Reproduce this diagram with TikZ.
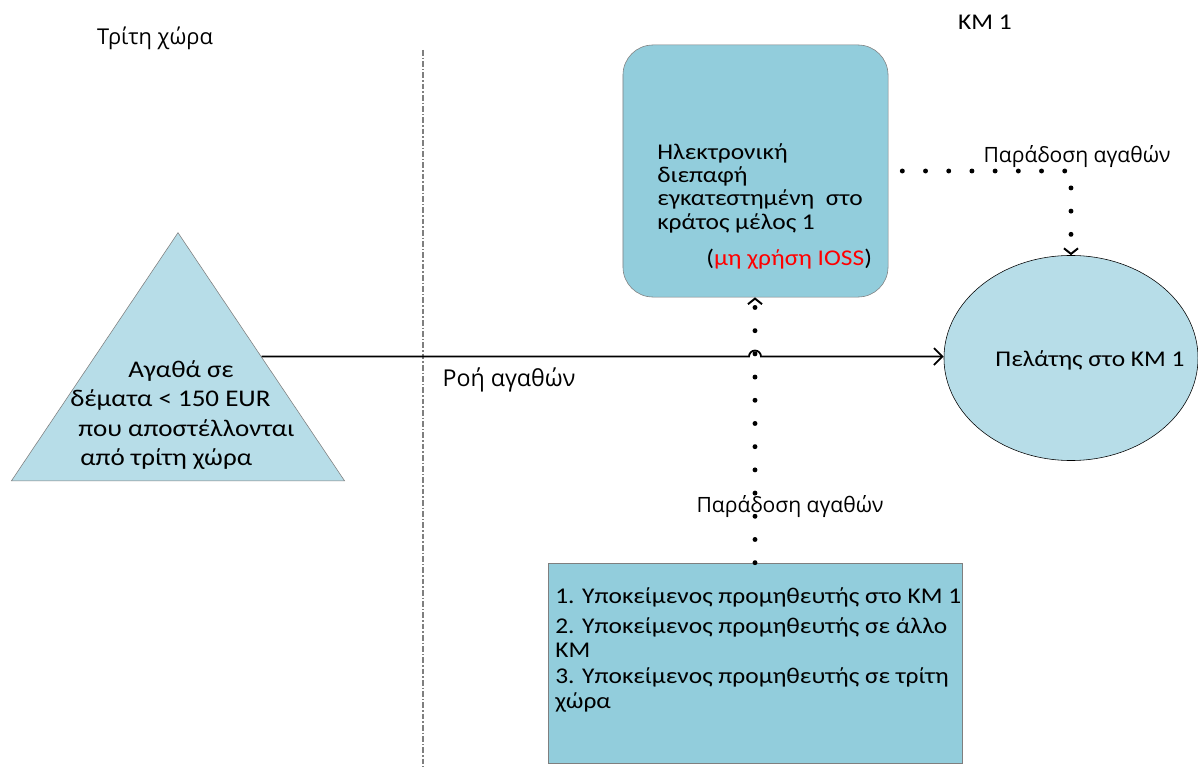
\documentclass[tikz,border=0pt]{standalone}
\usepackage{fontspec}
\setmainfont{Carlito}[FakeStretch=1.13]
\newfontfamily\grsans{Open Sans}
\usepackage{tikz}
\usetikzlibrary{arrows.meta, shapes.geometric, positioning}
\definecolor{boxblue}{HTML}{92CDDC}
\definecolor{paleblue}{HTML}{B7DDE8}
\definecolor{rimgray}{HTML}{7F7F7F}

\begin{document}
\begin{tikzpicture}[x=0.025cm, y=-0.025cm,
    box/.style={draw=rimgray, fill=boxblue, inner sep=0pt},
    txt/.style={font=\fontsize{16}{16.6}\selectfont, align=left, inner sep=0pt},
    lbl/.style={font=\grsans\fontsize{15}{17}\selectfont, inner sep=0pt},
    dots/.style={line width=3.5pt, line cap=round, dash pattern=on 0pt off 16.5pt,
        -{Straight Barb[line width=1.4pt, length=4pt, width=10pt]}},
    flow/.style={line width=1.3pt, -{Straight Barb[length=6pt, width=12pt]}}]
    \useasboundingbox (0,0) rectangle (1198,767);

    % frontier
    \coordinate (divtop) at (423,50);
    \coordinate (divbot) at (423,767);
    \draw[rimgray, line width=0.9pt, dash pattern=on 4pt off 1.5pt on 1pt off 1.5pt] (divtop) -- (divbot);

    \node[lbl, font=\grsans\fontsize{15.5}{17}\selectfont] (third) at (155,38) {Τρίτη χώρα};
    \node[font=\fontsize{16}{18}\selectfont] (ms) at (985,22) {ΚΜ 1};

    % shapes
    \node[isosceles triangle, shape border rotate=90, isosceles triangle stretches,
        draw=rimgray, fill=paleblue, inner sep=0pt, minimum width=8.325cm,
        minimum height=6.2cm, anchor=apex] (goods) at (178,232) {};
    \node[txt, font=\fontsize{17}{21}\selectfont, anchor=west] (goodstxt) at (70,415)
        {\hspace*{1.45cm}Αγαθά σε\\δέματα < 150 EUR\\\hspace*{0.2cm}που αποστέλλονται\\\hspace*{0.25cm}από τρίτη χώρα};

    \node[box, rounded corners=0.75cm, minimum width=6.625cm, minimum height=6.3cm] (iface) at (755.5,171) {};
    \node[txt, anchor=north west] (ifacetxt) at (657,143)
        {Ηλεκτρονική\\διεπαφή\\εγκατεστημένη~~στο\\κράτος μέλος 1\\[9pt]\hspace*{1.225cm}(\textcolor{red}{μη χρήση IOSS})};

    \node[ellipse, draw, fill=paleblue, minimum width=6.35cm, minimum height=5.125cm] (client) at (1071,358) {};
    \node[txt] (clienttxt) at (1090,360) {Πελάτης στο ΚΜ 1};

    \node[box, minimum width=10.35cm, minimum height=5cm] (supplier) at (755,663) {};
    \node[txt, font=\fontsize{16}{17.5}\selectfont, anchor=north west] (suppliertxt) at (555,587)
        {1. Υποκείμενος προμηθευτής στο ΚΜ 1\\[4pt]2. Υποκείμενος προμηθευτής σε άλλο\\ΚΜ\\[1pt]3. Υποκείμενος προμηθευτής σε τρίτη\\χώρα};

    % labels
    \node[lbl, font=\grsans\fontsize{16.5}{18}\selectfont] (flowlbl) at (509,380) {Ροή αγαθών};
    \node[lbl] (deliv1) at (1077,157) {Παράδοση αγαθών};
    \node[lbl] (deliv2) at (790,507) {Παράδοση αγαθών};

    % connectors
    \coordinate (hop) at (supplier.north |- goods.right side);
    \draw[flow] (goods.right side) -- ([xshift=-0.15cm]hop) arc[start angle=180, end angle=0, radius=0.15cm] -- (client.west |- hop);
    \draw[dots] (supplier.north) -- (supplier.north |- iface.south);
    \draw[dots, shorten <=0.35cm] (iface.east) -| (client.north);
\end{tikzpicture}
\end{document}
